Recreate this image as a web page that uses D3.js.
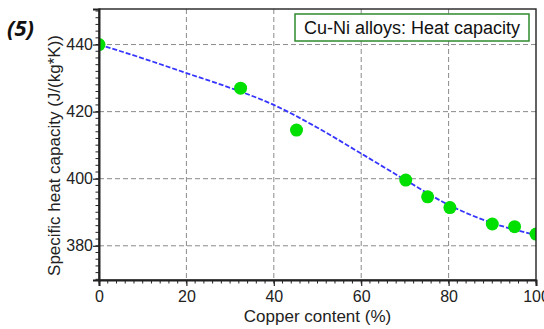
<!DOCTYPE html>
<html>
<head>
<meta charset="utf-8">
<script src="https://cdn.jsdelivr.net/npm/d3@7"></script>
<style>
  body { margin: 0; background: #fff; }
  text { font-family: "Liberation Sans", Arial, sans-serif; }
</style>
</head>
<body>
<div id="chart"></div>
<script>
// measured points
var copper = [0, 32.4, 45.2, 70.2, 75.2, 80.3, 90.0, 95.1, 100];
var heatCap = [440, 427, 414.5, 399.6, 394.6, 391.4, 386.5, 385.7, 383.5];

// fitted curve (dashed blue)
var fitCopper = [0, 10, 20, 30, 40, 50, 60, 70, 80, 90, 100];
var fitHeat = [440, 435.9, 431.5, 427.1, 422, 415.2, 407.5, 399.7, 392.2, 386.8, 383.2];

var xTicks = [0, 20, 40, 60, 80, 100];
var yTicks = [380, 400, 420, 440];

var svgWidth = 544, svgHeight = 329;
var margin = {top: 9, right: 8, bottom: 49, left: 99};
var width = svgWidth - margin.left - margin.right,
    height = svgHeight - margin.top - margin.bottom;

var svg = d3.select("#chart").append("svg")
  .attr("width", svgWidth)
  .attr("height", svgHeight);

var chartGroup = svg.append("g")
  .attr("transform", `translate(${margin.left}, ${margin.top})`);

var x = d3.scaleLinear().domain([0, 100]).range([0, width]);
var y = d3.scaleLinear().domain([369.8, 450.6]).range([height, 0]);

// grid
chartGroup.append("g").selectAll("line.gx")
  .data(xTicks.slice(1, -1)).enter().append("line")
  .attr("x1", d => x(d)).attr("x2", d => x(d))
  .attr("y1", 0).attr("y2", height)
  .attr("stroke", "#8a8a8a").attr("stroke-width", 1)
  .attr("stroke-dasharray", "5,3");
chartGroup.append("g").selectAll("line.gy")
  .data(yTicks).enter().append("line")
  .attr("x1", 0).attr("x2", width)
  .attr("y1", d => y(d)).attr("y2", d => y(d))
  .attr("stroke", "#8a8a8a").attr("stroke-width", 1)
  .attr("stroke-dasharray", "5,3");

chartGroup.append("clipPath").attr("id", "plotClip")
  .append("rect").attr("width", width).attr("height", height);

var plot = chartGroup.append("g").attr("clip-path", "url(#plotClip)");

// dashed fit line
var line = d3.line()
  .x((d, i) => x(fitCopper[i]))
  .y(d => y(d))
  .curve(d3.curveMonotoneX);

plot.append("path")
  .datum(fitHeat)
  .attr("d", line)
  .attr("fill", "none")
  .attr("stroke", "#3535ff")
  .attr("stroke-width", 1.8)
  .attr("stroke-dasharray", "5,2");

plot.selectAll("circle")
  .data(heatCap).enter().append("circle")
  .attr("cx", (d, i) => x(copper[i]))
  .attr("cy", d => y(d))
  .attr("r", 6.5)
  .style("fill", "#00e000");

// frame
chartGroup.append("rect")
  .attr("width", width).attr("height", height)
  .attr("fill", "none").attr("stroke", "#222").attr("stroke-width", 1.4);

// axes
var bottomAxis = d3.axisBottom(x).tickValues(xTicks).tickSize(6).tickPadding(5);
var leftAxis = d3.axisLeft(y).tickValues(yTicks).tickSize(6).tickPadding(0);

var xg = chartGroup.append("g")
  .attr("transform", `translate(0, ${height})`)
  .call(bottomAxis);
var yg = chartGroup.append("g").call(leftAxis);

// minor ticks
chartGroup.append("g").attr("transform", `translate(0, ${height})`)
  .selectAll("line").data(d3.range(0, 101, 2)).enter().append("line")
  .attr("x1", d => x(d)).attr("x2", d => x(d))
  .attr("y1", 0).attr("y2", 3.5)
  .attr("stroke", "#222");
chartGroup.append("g")
  .selectAll("line").data(d3.range(370, 451, 2)).enter().append("line")
  .attr("x1", -3.5).attr("x2", 0)
  .attr("y1", d => y(d)).attr("y2", d => y(d))
  .attr("stroke", "#222");

[xg, yg].forEach(function(g) {
  g.select(".domain").attr("stroke", "#222").attr("stroke-width", 2);
  g.selectAll(".tick line").attr("stroke", "#222").attr("stroke-width", 1.2);
  g.selectAll(".tick text")
    .style("font-family", '"Liberation Sans", Arial, sans-serif')
    .style("font-size", "16px").attr("fill", "#222");
});

// axis titles
svg.append("text")
  .attr("x", margin.left + width / 2)
  .attr("y", 322)
  .attr("text-anchor", "middle")
  .style("font-size", "17px").attr("fill", "#222")
  .text("Copper content (%)");

svg.append("text")
  .attr("transform", `translate(60, ${margin.top + height / 2 + 11}) rotate(-90)`)
  .attr("text-anchor", "middle")
  .style("font-size", "17px").attr("fill", "#222")
  .text("Specific heat capacity (J/(kg*K))");

// panel label
svg.append("text")
  .attr("x", 7).attr("y", 36)
  .style("font-size", "22px").style("font-weight", "bold").style("font-style", "italic")
  .style("font-family", '"Open Sans", "DejaVu Sans", sans-serif')
  .attr("fill", "#111")
  .text("(5)");

// legend box
var legend = svg.append("g").attr("transform", "translate(295, 14)");
legend.append("rect")
  .attr("width", 234).attr("height", 27)
  .attr("fill", "#fff").attr("stroke", "#2e8b2e").attr("stroke-width", 1.5);
legend.append("text")
  .attr("x", 117).attr("y", 20)
  .attr("text-anchor", "middle")
  .style("font-size", "18px").attr("fill", "#111")
  .text("Cu-Ni alloys: Heat capacity");
</script>
</body>
</html>
